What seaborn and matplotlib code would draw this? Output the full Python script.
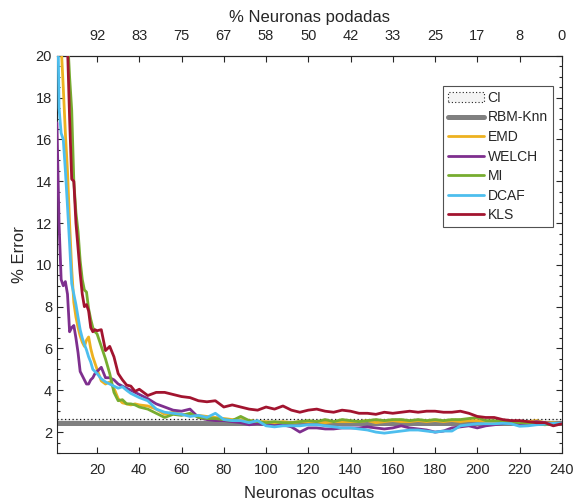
import numpy as np
import pandas as pd
import matplotlib
matplotlib.use("Agg")
import matplotlib.pyplot as plt
import seaborn as sns
from matplotlib.patches import Patch
from matplotlib.lines import Line2D

# ---------------- data ----------------
x_neurons = [1, 2, 3, 4, 5, 6, 7, 8, 9, 10, 11, 12, 13, 14, 15, 16, 17, 18, 19, 20,
             22, 24, 26, 28, 30, 32, 34, 36, 38, 40,
             44, 48, 52, 56, 60, 64, 68, 72, 76, 80, 84, 88, 92, 96, 100, 104, 108,
             112, 116, 120, 124, 128, 132, 136, 140, 144, 148, 152, 156, 160, 164,
             168, 172, 176, 180, 184, 188, 192, 196, 200, 204, 208, 212, 216, 220,
             224, 228, 232, 236, 240]

emd = [25, 25, 20.5, 18.5, 16.3, 14.5, 12.0, 9.8, 8.2, 7.5, 7.0, 6.6, 6.3, 6.1, 6.4, 6.55, 6.0, 5.6, 5.3, 5.0,
       4.45, 4.3, 4.4, 4.1, 3.6, 3.4, 3.35, 3.3, 3.35, 3.3,
       3.25, 3.1, 2.85, 2.95, 2.85, 2.8, 2.8, 2.75, 2.7, 2.65, 2.6, 2.6, 2.55, 2.5, 2.5, 2.45, 2.5,
       2.45, 2.5, 2.5, 2.5, 2.45, 2.5, 2.5, 2.5, 2.5, 2.55, 2.45, 2.5, 2.55, 2.5,
       2.5, 2.55, 2.5, 2.55, 2.5, 2.55, 2.5, 2.55, 2.55, 2.5, 2.45, 2.45, 2.45, 2.45,
       2.5, 2.55, 2.45, 2.45, 2.4]

welch = [16.8, 12.0, 9.3, 9.0, 9.2, 8.6, 6.8, 7.0, 7.1, 6.5, 5.8, 4.9, 4.7, 4.5, 4.3, 4.3, 4.5, 4.6, 4.8, 4.9,
         5.1, 4.6, 4.6, 4.5, 4.3, 4.2, 4.1, 4.0, 3.9, 3.8,
         3.6, 3.35, 3.2, 3.05, 3.0, 3.1, 2.7, 2.6, 2.55, 2.55, 2.5, 2.45, 2.35, 2.4, 2.35, 2.3, 2.35,
         2.25, 2.0, 2.2, 2.2, 2.15, 2.15, 2.2, 2.2, 2.2, 2.25, 2.2, 2.15, 2.2, 2.3,
         2.2, 2.15, 2.1, 2.0, 2.05, 2.2, 2.25, 2.3, 2.2, 2.3, 2.35, 2.4, 2.45, 2.4,
         2.45, 2.5, 2.45, 2.4, 2.4]

mi = [25, 25, 25, 25, 25, 21, 19, 17.4, 14.0, 12.5, 11.6, 10.2, 9.3, 8.8, 8.7, 7.9, 7.4, 7.0, 6.8, 6.7,
      6.1, 5.5, 4.8, 3.9, 3.5, 3.55, 3.35, 3.35, 3.3, 3.2,
      3.1, 2.9, 2.7, 2.85, 2.8, 2.9, 2.7, 2.65, 2.65, 2.6, 2.55, 2.75, 2.55, 2.5, 2.45, 2.5, 2.45,
      2.45, 2.5, 2.55, 2.5, 2.6, 2.5, 2.6, 2.55, 2.5, 2.55, 2.6, 2.55, 2.6, 2.6,
      2.55, 2.6, 2.55, 2.6, 2.55, 2.6, 2.6, 2.65, 2.7, 2.55, 2.55, 2.5, 2.5, 2.45,
      2.45, 2.4, 2.35, 2.4, 2.4]

dcaf = [25, 17.5, 16.3, 16.0, 14.5, 12.8, 11.0, 9.1, 8.6, 8.1, 7.5, 6.9, 6.5, 6.2, 5.93, 5.6, 5.35, 5.0, 4.9, 4.8,
        4.55, 4.4, 4.3, 4.2, 4.1, 4.17, 4.0, 3.85, 3.75, 3.65,
        3.5, 3.1, 2.95, 2.9, 2.85, 2.75, 2.8, 2.7, 2.9, 2.6, 2.55, 2.55, 2.45, 2.55, 2.3, 2.25, 2.3,
        2.3, 2.3, 2.35, 2.35, 2.3, 2.25, 2.2, 2.2, 2.15, 2.1, 2.0, 1.95, 2.0, 2.05,
        2.1, 2.1, 2.05, 2.0, 2.05, 2.05, 2.3, 2.35, 2.4, 2.4, 2.4, 2.42, 2.4, 2.28,
        2.3, 2.35, 2.38, 2.42, 2.42]

kls = [25, 25, 25, 25, 25, 20.5, 17.0, 14.1, 14.0, 12.0, 10.8, 9.6, 8.6, 8.0, 8.1, 7.8, 7.0, 6.8, 6.9, 6.85,
       6.9, 5.9, 6.1, 5.6, 4.8, 4.5, 4.25, 4.2, 3.95, 4.05,
       3.75, 3.9, 3.9, 3.8, 3.7, 3.65, 3.5, 3.45, 3.5, 3.2, 3.3, 3.2, 3.1, 3.05, 3.2, 3.1, 3.25,
       3.05, 2.95, 3.05, 3.1, 3.0, 2.95, 3.05, 3.0, 2.9, 2.9, 2.85, 2.95, 2.9, 2.95,
       3.0, 2.95, 3.0, 3.0, 2.95, 2.95, 3.0, 2.9, 2.75, 2.7, 2.7, 2.6, 2.55, 2.55,
       2.5, 2.45, 2.45, 2.3, 2.4]

rbm_knn = 2.42
ci_low, ci_high = 2.33, 2.64

series_names = ["EMD", "WELCH", "MI", "DCAF", "KLS"]
series_values = [emd, welch, mi, dcaf, kls]
series_colors = ["#EDB120", "#7E2F8E", "#77AC30", "#4DBEEE", "#A2142F"]

bottom_ticks = [20, 40, 60, 80, 100, 120, 140, 160, 180, 200, 220, 240]
top_tick_labels = ["92", "83", "75", "67", "58", "50", "42", "33", "25", "17", "8", "0"]
y_ticks = [2, 4, 6, 8, 10, 12, 14, 16, 18, 20]

# ---------------- style ----------------
sns.set_style("ticks")
plt.rcParams["font.family"] = ["Liberation Sans", "DejaVu Sans"]
text_col = "#262626"
plt.rcParams["text.color"] = text_col
plt.rcParams["axes.labelcolor"] = text_col
plt.rcParams["xtick.color"] = text_col
plt.rcParams["ytick.color"] = text_col

fig = plt.figure(figsize=(5.75, 5.03), dpi=100)
ax = fig.add_axes([0.099, 0.0994, 0.878, 0.7896])

# CI band: light fill, dotted upper bound
ax.fill_between([1, 240], [ci_low, ci_low], [ci_high, ci_high],
                facecolor="#ececec", edgecolor="none", zorder=1)
df_ci = pd.DataFrame({"x": [1, 240], "y": [ci_high, ci_high]})
sns.lineplot(data=df_ci, x="x", y="y", ax=ax, color="#111111", lw=0.9,
             linestyle=(0, (1, 2)), zorder=1.5)

# RBM-Knn baseline
df_rbm = pd.DataFrame({"x": [1, 240], "y": [rbm_knn, rbm_knn]})
sns.lineplot(data=df_rbm, x="x", y="y", ax=ax, color="#808080", lw=3.6, zorder=2)

df = pd.DataFrame({"x": x_neurons})
for name, vals, col in zip(series_names, series_values, series_colors):
    df[name] = vals
    sns.lineplot(data=df, x="x", y=name, ax=ax, color=col, lw=2.0, zorder=3)

ax.set_xlim(1, 240)
ax.set_ylim(1, 20)
ax.set_xticks(bottom_ticks)
ax.set_yticks(y_ticks)
ax.set_yticks(np.arange(1, 20.01, 0.5), minor=True)
ax.tick_params(axis="both", direction="in", labelsize=10.5, length=4, width=0.8,
               right=True, which="both")
ax.tick_params(axis="y", which="minor", length=2.5, right=True, left=True)
ax.tick_params(axis="x", which="both", top=False, pad=7)
for s in ax.spines.values():
    s.set_visible(True)
    s.set_linewidth(0.8)
    s.set_color(text_col)

ax.set_xlabel("Neuronas ocultas", fontsize=12, labelpad=7)
ax.set_ylabel("% Error", fontsize=12, labelpad=6)

top = ax.secondary_xaxis("top")
top.set_xticks(bottom_ticks)
top.set_xticklabels(top_tick_labels)
top.tick_params(direction="in", labelsize=10.5, length=4, width=0.8, pad=9)
top.set_xlabel("% Neuronas podadas", fontsize=12, labelpad=5)

handles = [Patch(facecolor="#f4f4f4", edgecolor="#222222", linestyle=(0, (1, 2)), linewidth=0.8),
           Line2D([], [], color="#808080", lw=3.6)]
labels = ["CI", "RBM-Knn"]
for name, col in zip(series_names, series_colors):
    handles.append(Line2D([], [], color=col, lw=2.0))
    labels.append(name)
leg = ax.legend(handles, labels, loc="upper right", bbox_to_anchor=(0.982, 0.924),
                borderaxespad=0, fontsize=10, frameon=True, fancybox=False,
                handlelength=2.6, handletextpad=0.25, labelspacing=0.4,
                borderpad=0.35)
leg.get_frame().set_edgecolor("#262626")
leg.get_frame().set_linewidth(0.8)

fig.savefig("out.png", dpi=100)
